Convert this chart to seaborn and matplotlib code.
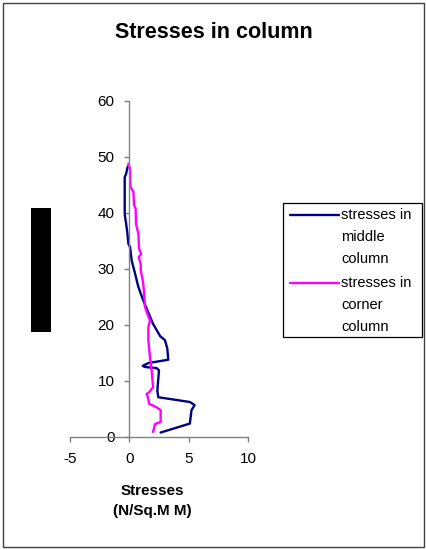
import matplotlib
matplotlib.use("Agg")
import matplotlib.pyplot as plt
import seaborn as sns
import pandas as pd
from matplotlib.patches import Rectangle
from matplotlib.lines import Line2D

# Stress profiles along the column height (x: stress, y: height)
middle_stress = [2.64, 5.1, 5.24, 5.5, 5.1, 3.7, 2.44, 2.36, 2.5, 2.3, 1.32, 1.13, 1.6, 3.28,
                 3.2, 3.0, 2.6, 2.0, 1.17, 0.76, 0.48, 0.2, 0.06, -0.08, -0.16, -0.27,
                 -0.36, -0.39, -0.39, -0.27, -0.16, -0.05]
middle_height = [0.8, 2.4, 4.8, 5.7, 6.25, 6.7, 7.1, 8.3, 11.9, 12.3, 12.5, 12.7, 13.2, 13.8,
                 15.8, 17.3, 18.0, 20.2, 24.4, 26.8, 29.2, 31.5, 33.9, 34.5, 36.3, 38.1,
                 39.3, 40.2, 46.4, 47.0, 48.1, 48.5]

corner_stress = [2.0, 2.16, 2.64, 2.64, 2.3, 1.68, 1.6, 1.46, 1.68, 2.0, 1.88, 1.74, 1.6,
                 1.6, 1.74, 1.52, 1.32, 1.23, 1.13, 0.96, 0.96, 0.79, 1.0, 0.82, 0.76,
                 0.56, 0.53, 0.4, 0.34, 0.1, 0.06, -0.08]
corner_height = [0.9, 2.3, 2.7, 4.8, 5.3, 5.9, 6.8, 7.7, 8.0, 8.9, 11.9, 14.3, 17.3,
                 19.6, 20.8, 22.0, 23.2, 26.2, 28.0, 29.8, 30.9, 32.1, 32.7, 33.6, 36.3,
                 38.1, 40.8, 41.4, 43.8, 44.6, 47.9, 48.8]

series_names = [["stresses in", "middle", "column"], ["stresses in", "corner", "column"]]
series_colors = ["#000080", "#FF00FF"]
x_ticks = [-5, 0, 5, 10]
y_ticks = [0, 10, 20, 30, 40, 50, 60]

sns.set_style("white")
plt.rcParams["font.family"] = ["Liberation Sans", "DejaVu Sans"]
plt.rcParams["axes.unicode_minus"] = False
plt.rcParams["text.color"] = "black"

labels = [" ".join(n) for n in series_names]
df = pd.concat([
    pd.DataFrame({"stress": middle_stress, "height": middle_height, "series": labels[0]}),
    pd.DataFrame({"stress": corner_stress, "height": corner_height, "series": labels[1]}),
], ignore_index=True)

W, H = 427, 550
fig = plt.figure(figsize=(W / 100, H / 100), dpi=100)
ax = fig.add_axes([70 / W, 1 - 437 / H, 178 / W, 336 / H])

sns.lineplot(data=df, x="stress", y="height", hue="series", palette=series_colors,
             sort=False, estimator=None, linewidth=1.7, ax=ax, legend=False)

ax.set_xlim(-5, 10)
ax.set_ylim(0, 60)
ax.set_xticks(x_ticks)
ax.set_yticks(y_ticks)
for s in ["top", "right"]:
    ax.spines[s].set_visible(False)
ax.spines["left"].set_position(("data", 0))
ax.spines["bottom"].set_position(("data", 0))
for s in ["left", "bottom"]:
    ax.spines[s].set_color("#808080")
    ax.spines[s].set_linewidth(1.0)
ax.tick_params(axis="both", direction="out", length=3.5, width=1.0, color="#808080",
               labelsize=11, labelcolor="black", left=True, bottom=True)
ax.tick_params(axis="x", pad=7)
ax.tick_params(axis="y", pad=7)
ax.set_xlabel("")
ax.set_ylabel("")
ax.patch.set_alpha(0)

# axis title below the plot
fig.text(152 / W, 1 - 491 / H, "Stresses", ha="center", va="center",
         fontsize=11, fontweight="bold", color="black")
fig.text(152 / W, 1 - 511 / H, "(N/Sq.M M)", ha="center", va="center",
         fontsize=11, fontweight="bold", color="black")

# legend box
fig.patches.append(Rectangle((283 / W, 1 - 337 / H), 139 / W, 134 / H,
                             transform=fig.transFigure, facecolor="white",
                             edgecolor="black", linewidth=0.9, zorder=3))
for i, (name, color) in enumerate(zip(series_names, series_colors)):
    y0 = 215 + i * 68
    fig.lines.append(Line2D([290 / W, 339 / W], [1 - y0 / H, 1 - y0 / H],
                            transform=fig.transFigure, color=color, linewidth=1.7,
                            zorder=4))
    for j, line in enumerate(name):
        fig.text(341 / W, 1 - (y0 + 22 * j) / H, line, ha="left", va="center",
                 fontsize=10.5, color="black", zorder=4)

fig.text(0.5, 1 - 33 / H, "Stresses in column", ha="center", va="center",
         fontsize=15.5, fontweight="bold", color="black")

# side block
fig.patches.append(Rectangle((31 / W, 1 - 332 / H), 20 / W, 124 / H,
                             transform=fig.transFigure, facecolor="black",
                             edgecolor="none"))
# outer frame
fig.patches.append(Rectangle((3 / W, 3 / H), 421 / W, 544 / H,
                             transform=fig.transFigure, facecolor="none",
                             edgecolor="#404040", linewidth=1.0))

fig.savefig("out.png", dpi=100)
